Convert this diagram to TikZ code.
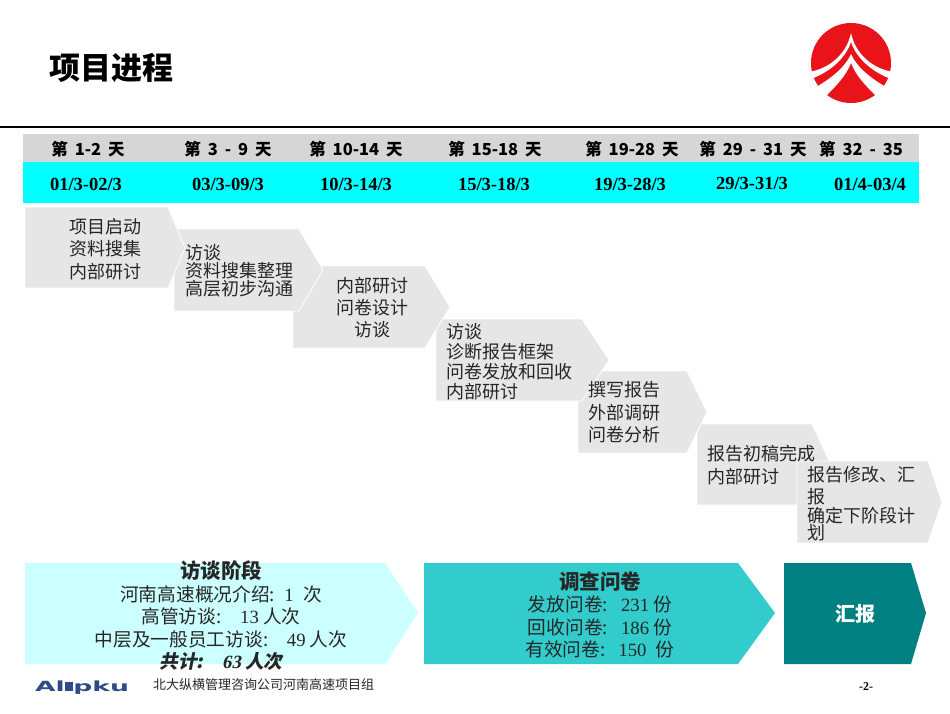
\documentclass[tikz,border=0pt]{standalone}
\usepackage{fontspec}
\setmainfont{Noto Sans CJK SC}
\newfontfamily\ls{Liberation Serif}
\newfontfamily\cjkslant{Noto Sans CJK SC}[FakeSlant=0.2]
\newfontfamily\lslant{Liberation Serif}[FakeSlant=0.2]
\newfontfamily\logofont{DejaVu Sans}
\definecolor{boxgray}{HTML}{E6E6E6}
\definecolor{headgray}{HTML}{D6D6D6}
\definecolor{headcyan}{HTML}{00FFFF}
\definecolor{palecyan}{HTML}{CCFFFF}
\definecolor{midteal}{HTML}{33CCCC}
\definecolor{darkteal}{HTML}{008080}
\definecolor{logored}{HTML}{E8141A}
\definecolor{logoblue}{HTML}{2F4A85}
\newcommand{\fs}[2]{\fontsize{#1}{#2}\selectfont}
\newcommand{\hs}{\hspace{0.5em}}
\newcommand{\hh}{\hspace{0.42em}}
\tikzset{
  gbox/.style={fill=boxgray,draw=white,line width=0.8pt},
  steptxt/.style={inner sep=0pt,anchor=north west,align=left,font=\fs{18}{22.5},text=black!85},
  headtxt/.style={inner sep=0pt,anchor=center,font=\fs{16.5}{20}\bfseries},
  datetxt/.style={inner sep=0pt,anchor=center,font=\ls\fs{18.5}{20}\bfseries},
  bartxt/.style={inner sep=0pt,anchor=north,align=center,font=\fs{18.7}{22.5},text=black!85},
}
\begin{document}
\begin{tikzpicture}[x=1pt,y=-1pt]
\useasboundingbox (0,0) rectangle (950,713);
% title and rule
\node[inner sep=0pt,anchor=west,font=\fs{31}{36}\bfseries] (title) at (49,68) {项目进程};
\draw[line width=1.8pt] (0,127) -- (950,127);
% logo
\fill[logored] (851,63) circle (40);
\fill[white] (851,33) .. controls (847,52) and (832,68) .. (809,72) -- (811,79) .. controls (832,71) and (846,57) .. (851,42) .. controls (856,57) and (870,71) .. (891,79) -- (893,72) .. controls (870,68) and (855,52) .. (851,33) -- cycle;
\fill[white] (851,54) .. controls (846,66) and (832,78) .. (816,87) -- (825,97) .. controls (836,86) and (846,76) .. (851,63) .. controls (856,76) and (866,86) .. (877,97) -- (886,87) .. controls (870,78) and (856,66) .. (851,54) -- cycle;
\fill[white] (807,80) -- (818,90) -- (813,90) -- cycle;
% header bands
\fill[headgray] (23,134) rectangle (919,162);
\fill[headcyan] (23,162) rectangle (919,203);
\node[headtxt] (h1) at (88,149) {第\hh{}1-2\hh{}天};
\node[headtxt] (h2) at (228,149) {第\hh{}3\hh{}-\hh{}9\hh{}天};
\node[headtxt] (h3) at (356,149) {第\hh{}10-14\hh{}天};
\node[headtxt] (h4) at (495,149) {第\hh{}15-18\hh{}天};
\node[headtxt] (h5) at (632,149) {第\hh{}19-28\hh{}天};
\node[headtxt] (h6) at (753,149) {第\hh{}29\hh{}-\hh{}31\hh{}天};
\node[headtxt] (h7) at (861,149) {第\hh{}32\hh{}-\hh{}35};
\node[datetxt] (d1) at (86,184) {01/3-02/3};
\node[datetxt] (d2) at (228,184) {03/3-09/3};
\node[datetxt] (d3) at (356,184) {10/3-14/3};
\node[datetxt] (d4) at (494,184) {15/3-18/3};
\node[datetxt] (d5) at (630,184) {19/3-28/3};
\node[datetxt] (d6) at (752,183) {29/3-31/3};
\node[datetxt] (d7) at (870,184) {01/4-03/4};
% step chevrons, later ones beneath earlier ones where they overlap
\filldraw[gbox] (697,424) -- (812,424) -- (831,465) -- (812,505) -- (697,505) -- cycle;
\filldraw[gbox] (797,461) -- (928,461) -- (942,502) -- (928,543) -- (797,543) -- cycle;
\filldraw[gbox] (578,371) -- (687,371) -- (707,412) -- (687,453) -- (578,453) -- cycle;
\filldraw[gbox] (436,319) -- (582,319) -- (609,360) -- (582,401) -- (436,401) -- cycle;
\filldraw[gbox] (293,266) -- (425,266) -- (450,307) -- (425,348) -- (293,348) -- cycle;
\filldraw[gbox] (174,229) -- (299,229) -- (323,270) -- (299,311) -- (174,311) -- cycle;
\filldraw[gbox] (25,207) -- (168,207) -- (185,248) -- (168,288) -- (25,288) -- cycle;
\node[steptxt] (s1) at (69,218) {项目启动\\资料搜集\\内部研讨};
\node[steptxt,font=\fs{18}{18}] (s2) at (185,244) {访谈\\资料搜集整理\\高层初步沟通};
\node[steptxt,align=center,font=\fs{18}{22}] (s3) at (336,277) {内部研讨\\问卷设计\\访谈};
\node[steptxt,font=\fs{18}{20}] (s4) at (446,323) {访谈\\诊断报告框架\\问卷发放和回收\\内部研讨};
\node[steptxt] (s5) at (588,381.5) {撰写报告\\外部调研\\问卷分析};
\node[steptxt,font=\fs{18}{23}] (s6) at (707,445) {报告初稿完成\\内部研讨};
\node[steptxt,font=\fs{18}{20}] (s7) at (807,466) {报告修改、汇\\[2pt]报\\[-1pt]确定下阶段计\\[-3pt]划};
% phase arrows
\fill[palecyan] (25,563) -- (385,563) -- (418,613) -- (385,664) -- (25,664) -- cycle;
\fill[midteal] (424,563) -- (738,563) -- (775,613) -- (738,664) -- (424,664) -- cycle;
\fill[darkteal] (784,563) -- (911,563) -- (926,613) -- (911,664) -- (784,664) -- cycle;
\node[bartxt] (p1) at (221,560.5) {{\fs{20.5}{22.5}\bfseries 访谈阶段}\\
  河南高速概况介绍:\hs{\ls 1}\hs{}次\\
  高管访谈:\hspace{1em}{\ls 13} 人次\hspace{2.2em}\\
  中层及一般员工访谈:\hspace{1em}{\ls 49} 人次\\
  {\cjkslant\bfseries 共计:}\hspace{1em}{\lslant\bfseries 63} {\cjkslant\bfseries 人次}};
\node[bartxt] (p2) at (600,571.5) {{\fs{20.5}{22.5}\bfseries 调查问卷}\\
  发放问卷:\hspace{0.7em}{\ls 231} 份\\
  回收问卷:\hspace{0.7em}{\ls 186} 份\\
  有效问卷:\hspace{0.7em}{\ls 150}\hs{}份};
\node[inner sep=0pt,anchor=center,text=white,font=\fs{20}{24}\bfseries] (p3) at (855,614) {汇报};
% footer
\node[inner sep=0pt,anchor=base,xscale=1.9,text=logoblue,font=\logofont\fs{14}{16}\bfseries] (alpku) at (82,691) {Al\rule{4.5pt}{9pt}pku};
\node[inner sep=0pt,anchor=west,font=\fs{13}{16},text=black!85] (foot) at (153,685) {北大纵横管理咨询公司河南高速项目组};
\node[inner sep=0pt,anchor=center,font=\ls\fs{12}{14}\bfseries] (pg) at (866,687) {-2-};
\end{tikzpicture}
\end{document}
